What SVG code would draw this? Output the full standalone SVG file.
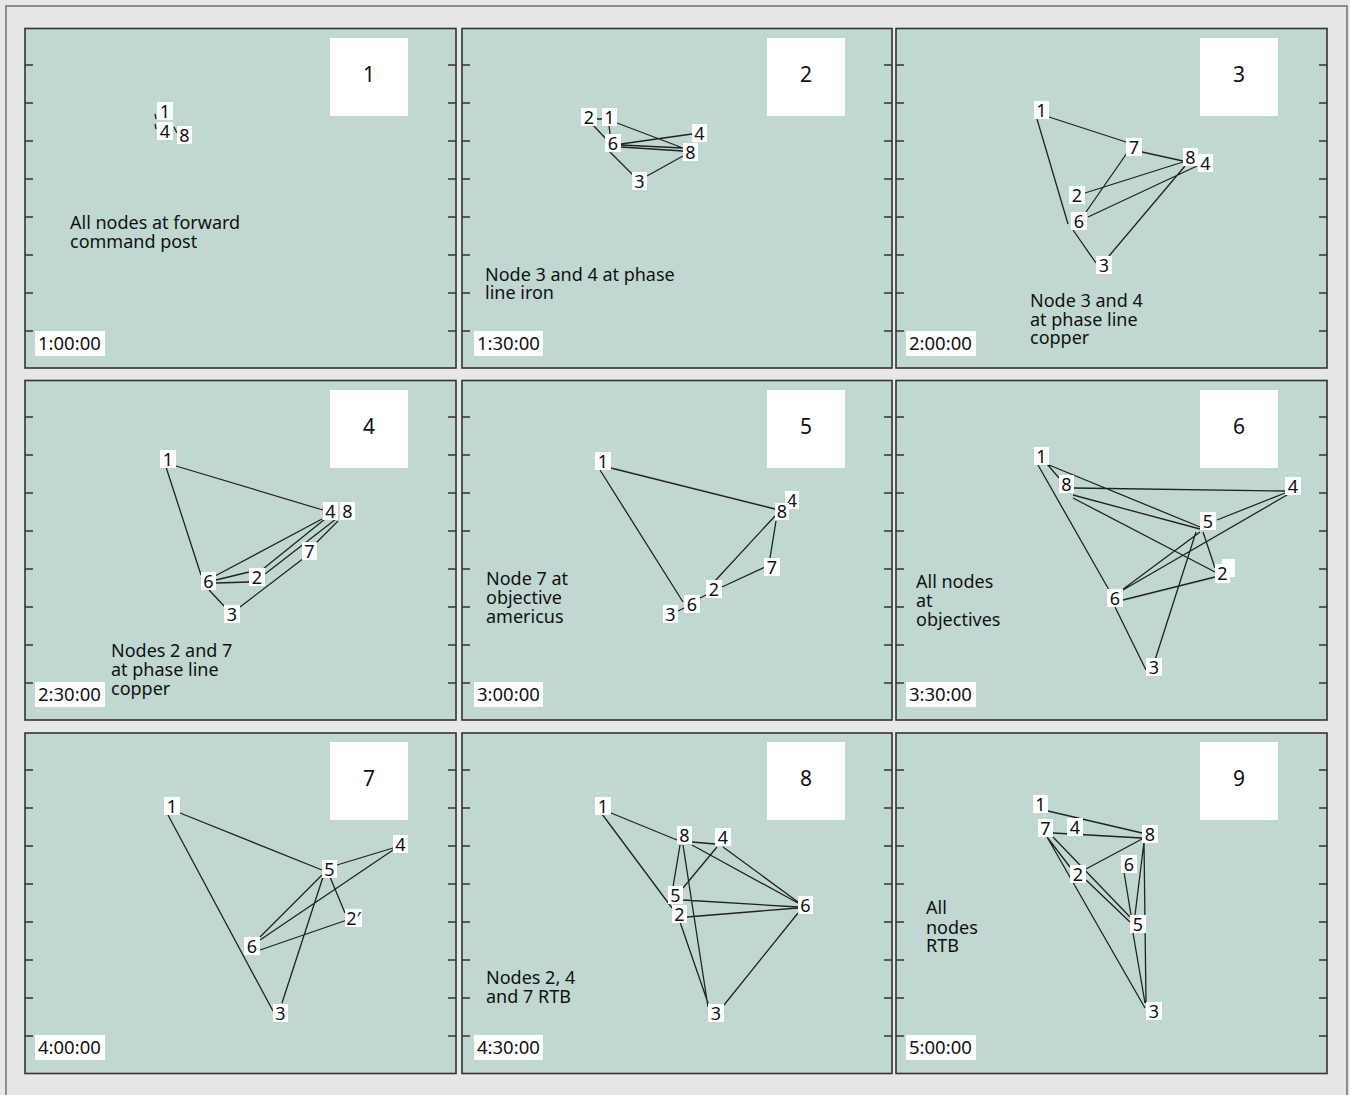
<svg xmlns="http://www.w3.org/2000/svg" width="1350" height="1095" viewBox="0 0 1350 1095">
<defs>
<style>
.bg{fill:#e6e7e8}
.outer{fill:none;stroke:#6d6e70;stroke-width:1.5}
.panel{fill:#c0d8d1;stroke:#333;stroke-width:1.6}
.tick{stroke:#333;stroke-width:1.5}
.box{fill:#fff}
.e{stroke:#222;stroke-width:1.3;fill:none}
text{font-family:"Noto Sans","Open Sans","Liberation Sans",sans-serif;fill:#111}
.n{font-size:18px;text-anchor:middle}
.big{font-size:21px;text-anchor:middle}
.t{font-size:18.5px}
.d{font-size:18px}
</style>
<g id="ticksL" class="tick">
<line x1="0" y1="37" x2="8" y2="37"/><line x1="0" y1="75" x2="8" y2="75"/><line x1="0" y1="113" x2="8" y2="113"/><line x1="0" y1="151" x2="8" y2="151"/><line x1="0" y1="189" x2="8" y2="189"/><line x1="0" y1="227" x2="8" y2="227"/><line x1="0" y1="265" x2="8" y2="265"/><line x1="0" y1="303" x2="8" y2="303"/>
</g>
</defs>
<rect class="bg" x="0" y="0" width="1350" height="1095"/>
<rect class="outer" x="6" y="6" width="1341" height="1100"/>

<g id="panels">
<rect class="panel" x="25" y="28.5" width="431" height="339.5"/>
<rect class="panel" x="462" y="28.5" width="430" height="339.5"/>
<rect class="panel" x="896" y="28.5" width="431" height="339.5"/>
<rect class="panel" x="25" y="380.5" width="431" height="339.5"/>
<rect class="panel" x="462" y="380.5" width="430" height="339.5"/>
<rect class="panel" x="896" y="380.5" width="431" height="339.5"/>
<rect class="panel" x="25" y="733" width="431" height="340.5"/>
<rect class="panel" x="462" y="733" width="430" height="340.5"/>
<rect class="panel" x="896" y="733" width="431" height="340.5"/>
</g>
<g id="ticks">
<use href="#ticksL" x="25" y="28"/><use href="#ticksL" x="448" y="28"/>
<use href="#ticksL" x="462" y="28"/><use href="#ticksL" x="884" y="28"/>
<use href="#ticksL" x="896" y="28"/><use href="#ticksL" x="1319" y="28"/>
<use href="#ticksL" x="25" y="380"/><use href="#ticksL" x="448" y="380"/>
<use href="#ticksL" x="462" y="380"/><use href="#ticksL" x="884" y="380"/>
<use href="#ticksL" x="896" y="380"/><use href="#ticksL" x="1319" y="380"/>
<use href="#ticksL" x="25" y="733"/><use href="#ticksL" x="448" y="733"/>
<use href="#ticksL" x="462" y="733"/><use href="#ticksL" x="884" y="733"/>
<use href="#ticksL" x="896" y="733"/><use href="#ticksL" x="1319" y="733"/>
</g>

<g id="panel-labels">
<g id="label-1"><rect class="box" x="330" y="38" width="78" height="78"/><text class="big" x="369" y="82">1</text></g>
<g id="label-2"><rect class="box" x="767" y="38" width="78" height="78"/><text class="big" x="806" y="82">2</text></g>
<g id="label-3"><rect class="box" x="1200" y="38" width="78" height="78"/><text class="big" x="1239" y="82">3</text></g>
<g id="label-4"><rect class="box" x="330" y="390" width="78" height="78"/><text class="big" x="369" y="434">4</text></g>
<g id="label-5"><rect class="box" x="767" y="390" width="78" height="78"/><text class="big" x="806" y="434">5</text></g>
<g id="label-6"><rect class="box" x="1200" y="390" width="78" height="78"/><text class="big" x="1239" y="434">6</text></g>
<g id="label-7"><rect class="box" x="330" y="742" width="78" height="78"/><text class="big" x="369" y="786">7</text></g>
<g id="label-8"><rect class="box" x="767" y="742" width="78" height="78"/><text class="big" x="806" y="786">8</text></g>
<g id="label-9"><rect class="box" x="1200" y="742" width="78" height="78"/><text class="big" x="1239" y="786">9</text></g>
</g>

<g id="times">
<g id="time-1"><rect class="box" x="35" y="331" width="70" height="25"/><text class="t" x="38" y="350">1:00:00</text></g>
<g id="time-2"><rect class="box" x="474" y="331" width="69" height="25"/><text class="t" x="477" y="350">1:30:00</text></g>
<g id="time-3"><rect class="box" x="906" y="331" width="70" height="25"/><text class="t" x="909" y="350">2:00:00</text></g>
<g id="time-4"><rect class="box" x="35" y="682" width="70" height="25"/><text class="t" x="38" y="701">2:30:00</text></g>
<g id="time-5"><rect class="box" x="474" y="682" width="69" height="25"/><text class="t" x="477" y="701">3:00:00</text></g>
<g id="time-6"><rect class="box" x="906" y="682" width="70" height="25"/><text class="t" x="909" y="701">3:30:00</text></g>
<g id="time-7"><rect class="box" x="35" y="1035" width="70" height="25"/><text class="t" x="38" y="1054">4:00:00</text></g>
<g id="time-8"><rect class="box" x="474" y="1035" width="69" height="25"/><text class="t" x="477" y="1054">4:30:00</text></g>
<g id="time-9"><rect class="box" x="906" y="1035" width="70" height="25"/><text class="t" x="909" y="1054">5:00:00</text></g>
</g>

<g id="descriptions">
<text class="d" x="70" y="229">All nodes at forward</text>
<text class="d" x="70" y="248">command post</text>
<text class="d" x="485" y="281">Node 3 and 4 at phase</text>
<text class="d" x="485" y="299">line iron</text>
<text class="d" x="1030" y="307">Node 3 and 4</text>
<text class="d" x="1030" y="326">at phase line</text>
<text class="d" x="1030" y="344">copper</text>
<text class="d" x="111" y="657">Nodes 2 and 7</text>
<text class="d" x="111" y="676">at phase line</text>
<text class="d" x="111" y="695">copper</text>
<text class="d" x="486" y="585">Node 7 at</text>
<text class="d" x="486" y="604">objective</text>
<text class="d" x="486" y="623">americus</text>
<text class="d" x="916" y="588">All nodes</text>
<text class="d" x="916" y="607">at</text>
<text class="d" x="916" y="626">objectives</text>
<text class="d" x="486" y="984">Nodes 2, 4</text>
<text class="d" x="486" y="1003">and 7 RTB</text>
<text class="d" x="926" y="914">All</text>
<text class="d" x="926" y="934">nodes</text>
<text class="d" x="926" y="952">RTB</text>
</g>

<g id="connectors">
<path class="e" d="M155 114 L156 119 M155 124 L156 129 M174 127 L177 133"/>
<path class="e" d="M597 119 L602 119 M609 125 L610 134 M593 125 L607 140 M617 123 L683 148 M621 144 L692 134 M621 145 L683 148 M621 147 L683 151 M610 152 L633 175 M647 176 L683 156"/>
<path class="e" d="M1049 117 L1126 142 M1142 152 L1183 161 M1037 119 L1068 224 M1073 230 L1096 263 M1127 153 L1086 212 M1085 193 L1183 162 M1088 217 L1197 166 M1109 256 L1185 166"/>
<path class="e" d="M176 466 L323 510 M166 467 L201 575 M209 590 L225 607 M215 576 L322 519 M216 580 L249 572 M216 583 L249 582 M263 569 L325 519 M265 574 L336 519 M338 521 L316 543 M304 558 L240 607"/>
<path class="e" d="M611 468 L775 509 M600 470 L683 602 M678 611 L684 608 M700 598 L706 595 M714 582 L775 516 M722 587 L765 567 M770 558 L776 521"/>
<path class="e" d="M1047 464 L1059 478 M1049 465 L1200 527 M1038 465 L1113 597 M1115 607 L1146 670 M1074 488 L1285 491 M1073 495 L1200 529 M1073 498 L1215 572 M1217 520 L1285 493 M1123 590 L1287 495 M1200 532 L1122 590 M1203 532 L1215 568 M1196 532 L1155 660 M1123 600 L1215 577"/>
<path class="e" d="M180 813 L322 870 M168 815 L273 1011 M337 865 L393 848 M260 940 L393 850 M322 875 L260 937 M323 877 L282 1003 M330 877 L345 913 M260 950 L347 920"/>
<path class="e" d="M611 813 L677 840 M602 814 L672 908 M692 842 L715 844 M692 845 L798 903 M723 847 L798 902 M680 845 L673 887 M683 845 L708 1007 M717 847 L683 888 M683 900 L798 907 M687 917 L798 908 M680 922 L708 1003 M724 1005 L798 913"/>
<path class="e" d="M1048 811 L1142 833 M1053 833 L1142 838 M1086 869 L1142 839 M1144 842 L1135 915 M1144 842 L1146 1003 M1124 872 L1131 915 M1047 837 L1070 867 M1053 837 L1130 917 M1086 880 L1130 922 M1047 837 L1145 1008 M1133 933 L1145 1003"/>
</g>

<g id="nodes">
<g id="p1-n1"><rect class="box" x="157" y="102" width="16" height="18"/><text class="n" x="165" y="117.5">1</text></g>
<g id="p1-n4"><rect class="box" x="157" y="122" width="16" height="18"/><text class="n" x="165" y="137.5">4</text></g>
<g id="p1-n8"><rect class="box" x="177" y="126" width="15" height="18"/><text class="n" x="184.5" y="141.5">8</text></g>

<g id="p2-n2"><rect class="box" x="581" y="108" width="16" height="18"/><text class="n" x="589" y="123.5">2</text></g>
<g id="p2-n1"><rect class="box" x="602" y="108" width="15" height="18"/><text class="n" x="609.5" y="123.5">1</text></g>
<g id="p2-n6"><rect class="box" x="605" y="134" width="16" height="18"/><text class="n" x="613" y="149.5">6</text></g>
<g id="p2-n4"><rect class="box" x="692" y="124" width="15" height="18"/><text class="n" x="699.5" y="139.5">4</text></g>
<g id="p2-n8"><rect class="box" x="683" y="143" width="15" height="18"/><text class="n" x="690.5" y="158.5">8</text></g>
<g id="p2-n3"><rect class="box" x="632" y="172" width="15" height="18"/><text class="n" x="639.5" y="187.5">3</text></g>

<g id="p3-n1"><rect class="box" x="1034" y="101" width="15" height="18"/><text class="n" x="1041.5" y="116.5">1</text></g>
<g id="p3-n7"><rect class="box" x="1126" y="138" width="16" height="18"/><text class="n" x="1134" y="153.5">7</text></g>
<g id="p3-n8"><rect class="box" x="1183" y="148" width="15" height="18"/><text class="n" x="1190.5" y="163.5">8</text></g>
<g id="p3-n4"><rect class="box" x="1198" y="154" width="15" height="18"/><text class="n" x="1205.5" y="169.5">4</text></g>
<g id="p3-n2"><rect class="box" x="1069" y="186" width="16" height="18"/><text class="n" x="1077" y="201.5">2</text></g>
<g id="p3-n6"><rect class="box" x="1071" y="212" width="16" height="18"/><text class="n" x="1079" y="227.5">6</text></g>
<g id="p3-n3"><rect class="box" x="1096" y="256" width="16" height="18"/><text class="n" x="1104" y="271.5">3</text></g>

<g id="p4-n1"><rect class="box" x="160" y="450" width="16" height="18"/><text class="n" x="168" y="465.5">1</text></g>
<g id="p4-n4"><rect class="box" x="323" y="502" width="15" height="18"/><text class="n" x="330.5" y="517.5">4</text></g>
<g id="p4-n8"><rect class="box" x="340" y="502" width="15" height="18"/><text class="n" x="347.5" y="517.5">8</text></g>
<g id="p4-n7"><rect class="box" x="302" y="542" width="15" height="18"/><text class="n" x="309.5" y="557.5">7</text></g>
<g id="p4-n2"><rect class="box" x="249" y="568" width="16" height="18"/><text class="n" x="257" y="583.5">2</text></g>
<g id="p4-n6"><rect class="box" x="201" y="572" width="15" height="18"/><text class="n" x="208.5" y="587.5">6</text></g>
<g id="p4-n3"><rect class="box" x="224" y="605" width="16" height="18"/><text class="n" x="232" y="620.5">3</text></g>

<g id="p5-n1"><rect class="box" x="595" y="452" width="16" height="18"/><text class="n" x="603" y="467.5">1</text></g>
<g id="p5-n4"><rect class="box" x="785" y="491" width="14" height="18"/><text class="n" x="792" y="506.5">4</text></g>
<g id="p5-n8"><rect class="box" x="775" y="503" width="14" height="17"/><text class="n" x="782" y="517.5">8</text></g>
<g id="p5-n7"><rect class="box" x="764" y="558" width="16" height="18"/><text class="n" x="772" y="573.5">7</text></g>
<g id="p5-n2"><rect class="box" x="706" y="580" width="16" height="18"/><text class="n" x="714" y="595.5">2</text></g>
<g id="p5-n3"><rect class="box" x="663" y="605" width="15" height="18"/><text class="n" x="670.5" y="620.5">3</text></g>
<g id="p5-n6"><rect class="box" x="684" y="595" width="16" height="18"/><text class="n" x="692" y="610.5">6</text></g>

<g id="p6-n1"><rect class="box" x="1034" y="447" width="15" height="18"/><text class="n" x="1041.5" y="462.5">1</text></g>
<g id="p6-n8"><rect class="box" x="1059" y="475" width="15" height="18"/><text class="n" x="1066.5" y="490.5">8</text></g>
<g id="p6-n4"><rect class="box" x="1285" y="477" width="16" height="18"/><text class="n" x="1293" y="492.5">4</text></g>
<g id="p6-n5"><rect class="box" x="1200" y="512" width="16" height="18"/><text class="n" x="1208" y="527.5">5</text></g>
<g id="p6-n2"><rect class="box" x="1222" y="559" width="13" height="18"/><rect class="box" x="1215" y="564" width="15" height="19"/><text class="n" x="1222.5" y="579.5">2</text></g>
<g id="p6-n6"><rect class="box" x="1107" y="589" width="16" height="18"/><text class="n" x="1115" y="604.5">6</text></g>
<g id="p6-n3"><rect class="box" x="1146" y="658" width="16" height="18"/><text class="n" x="1154" y="673.5">3</text></g>

<g id="p7-n1"><rect class="box" x="164" y="797" width="16" height="18"/><text class="n" x="172" y="812.5">1</text></g>
<g id="p7-n4"><rect class="box" x="393" y="835" width="15" height="18"/><text class="n" x="400.5" y="850.5">4</text></g>
<g id="p7-n5"><rect class="box" x="322" y="860" width="15" height="18"/><text class="n" x="329.5" y="875.5">5</text></g>
<g id="p7-n2"><rect class="box" x="345" y="909" width="17" height="18"/><text class="n" x="353.5" y="924.5">2′</text></g>
<g id="p7-n6"><rect class="box" x="244" y="937" width="16" height="18"/><text class="n" x="252" y="952.5">6</text></g>
<g id="p7-n3"><rect class="box" x="273" y="1004" width="15" height="18"/><text class="n" x="280.5" y="1019.5">3</text></g>

<g id="p8-n1"><rect class="box" x="595" y="797" width="16" height="18"/><text class="n" x="603" y="812.5">1</text></g>
<g id="p8-n8"><rect class="box" x="677" y="826" width="15" height="18"/><text class="n" x="684.5" y="841.5">8</text></g>
<g id="p8-n4"><rect class="box" x="715" y="828" width="16" height="18"/><text class="n" x="723" y="843.5">4</text></g>
<g id="p8-n5"><rect class="box" x="668" y="886" width="15" height="18"/><text class="n" x="675.5" y="901.5">5</text></g>
<g id="p8-n2"><rect class="box" x="672" y="905" width="15" height="18"/><text class="n" x="679.5" y="920.5">2</text></g>
<g id="p8-n6"><rect class="box" x="798" y="896" width="15" height="18"/><text class="n" x="805.5" y="911.5">6</text></g>
<g id="p8-n3"><rect class="box" x="708" y="1004" width="16" height="18"/><text class="n" x="716" y="1019.5">3</text></g>

<g id="p9-n1"><rect class="box" x="1033" y="795" width="15" height="18"/><text class="n" x="1040.5" y="810.5">1</text></g>
<g id="p9-n7"><rect class="box" x="1038" y="819" width="15" height="18"/><text class="n" x="1045.5" y="834.5">7</text></g>
<g id="p9-n4"><rect class="box" x="1067" y="818" width="16" height="18"/><text class="n" x="1075" y="833.5">4</text></g>
<g id="p9-n8"><rect class="box" x="1142" y="825" width="16" height="18"/><text class="n" x="1150" y="840.5">8</text></g>
<g id="p9-n6"><rect class="box" x="1121" y="855" width="16" height="18"/><text class="n" x="1129" y="870.5">6</text></g>
<g id="p9-n2"><rect class="box" x="1070" y="865" width="16" height="18"/><text class="n" x="1078" y="880.5">2</text></g>
<g id="p9-n5"><rect class="box" x="1130" y="915" width="16" height="18"/><text class="n" x="1138" y="930.5">5</text></g>
<g id="p9-n3"><rect class="box" x="1146" y="1002" width="16" height="18"/><text class="n" x="1154" y="1017.5">3</text></g>
</g>
</svg>
